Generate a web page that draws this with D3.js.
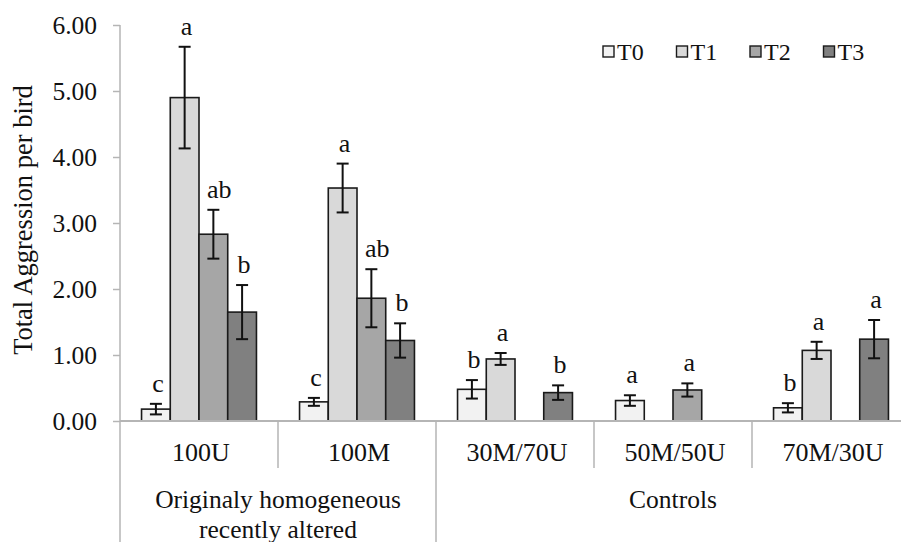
<!DOCTYPE html>
<html>
<head>
<meta charset="utf-8">
<script src="https://cdn.jsdelivr.net/npm/d3@7"></script>
<style>
  body { margin: 0; background: #fff; }
</style>
</head>
<body>
<div id="chart"></div>
<script>
// values
const categories = ["100U", "100M", "30M/70U", "50M/50U", "70M/30U"];
const series = ["T0", "T1", "T2", "T3"];
const groups = [
    { name: ["Originaly homogeneous", "recently altered"], span: 2 },
    { name: ["Controls"], span: 3 }
];
const yTicks = [0, 1, 2, 3, 4, 5, 6];

// per series, one value per category (null = no bar)
const meanT0 = [0.18, 0.29, 0.48, 0.31, 0.20];
const meanT1 = [4.90, 3.53, 0.94, null, 1.07];
const meanT2 = [2.83, 1.86, null, 0.47, null];
const meanT3 = [1.65, 1.22, 0.43, null, 1.24];

const errT0 = [0.08, 0.06, 0.14, 0.08, 0.07];
const errT1 = [0.77, 0.37, 0.09, null, 0.13];
const errT2 = [0.37, 0.44, null, 0.10, null];
const errT3 = [0.41, 0.26, 0.11, null, 0.29];

const letT0 = ["c", "c", "b", "a", "b"];
const letT1 = ["a", "a", "a", "", "a"];
const letT2 = ["ab", "ab", "", "a", ""];
const letT3 = ["b", "b", "b", "", "a"];

const means = [meanT0, meanT1, meanT2, meanT3];
const errs = [errT0, errT1, errT2, errT3];
const lets = [letT0, letT1, letT2, letT3];
const fills = ["#f2f2f2", "#d9d9d9", "#a6a6a6", "#808080"];

const serif = '"Liberation Serif"';

const svg = d3.select("#chart").append("svg")
    .attr("width", 901)
    .attr("height", 542);

const margin = { top: 25, left: 120 },
    width = 790,
    height = 396;

const g = svg.append("g").attr("transform", `translate(${margin.left},${margin.top})`);

const x0 = d3.scaleBand().domain(categories).range([0, width]).padding(0);
const x1 = d3.scaleBand().domain(series).range([0, x0.bandwidth()])
    .paddingInner(0).paddingOuter(0.75);
const y = d3.scaleLinear().domain([0, 6]).range([height, 0]);

const axisColor = "#b5b5b5";

function label(sel, size) {
    return sel.style("font-family", serif).style("font-size", size + "px").attr("fill", "#111");
}

// y axis
const yAxis = g.append("g")
    .call(d3.axisLeft(y).tickValues(yTicks).tickFormat(d3.format(".2f")).tickSize(7).tickPadding(16));
yAxis.select(".domain").remove();
yAxis.selectAll("line").attr("stroke", axisColor).attr("stroke-width", 1.5);
label(yAxis.selectAll("text"), 25.5);

g.append("line")
    .attr("x1", 0).attr("x2", 0)
    .attr("y1", 0).attr("y2", 542 - margin.top)
    .attr("stroke", axisColor).attr("stroke-width", 1.5);

// bars
const rows = [];
categories.forEach((c, ci) => {
    series.forEach((s, si) => {
        if (means[si][ci] != null) {
            rows.push({ cat: c, ser: s, si: si, v: means[si][ci], e: errs[si][ci], lab: lets[si][ci] });
        }
    });
});

g.selectAll("rect.bar")
    .data(rows)
    .enter().append("rect")
    .attr("class", "bar")
    .attr("x", d => x0(d.cat) + x1(d.ser))
    .attr("y", d => y(d.v))
    .attr("width", x1.bandwidth())
    .attr("height", d => y(0) - y(d.v))
    .attr("fill", d => fills[d.si])
    .attr("stroke", "#1a1a1a")
    .attr("stroke-width", 1.6);

// x axis line
g.append("line")
    .attr("x1", 0).attr("x2", width)
    .attr("y1", y(0)).attr("y2", y(0))
    .attr("stroke", axisColor).attr("stroke-width", 2);

// error bars
const cap = 6;
const eb = g.selectAll("g.err")
    .data(rows)
    .enter().append("g")
    .attr("class", "err")
    .attr("transform", d => `translate(${x0(d.cat) + x1(d.ser) + x1.bandwidth() / 2},0)`)
    .attr("stroke", "#111")
    .attr("stroke-width", 2);
eb.append("line").attr("x1", 0).attr("x2", 0)
    .attr("y1", d => y(d.v + d.e)).attr("y2", d => y(d.v - d.e));
eb.append("line").attr("x1", -cap).attr("x2", cap)
    .attr("y1", d => y(d.v + d.e)).attr("y2", d => y(d.v + d.e));
eb.append("line").attr("x1", -cap).attr("x2", cap)
    .attr("y1", d => y(d.v - d.e)).attr("y2", d => y(d.v - d.e));

// significance letters
label(g.selectAll("text.sig")
    .data(rows.filter(d => d.lab))
    .enter().append("text")
    .attr("class", "sig")
    .attr("x", d => x0(d.cat) + x1(d.ser) + x1.bandwidth() / 2 + (d.lab.length > 1 ? 6 : 2))
    .attr("y", d => y(d.v + d.e) - 12)
    .attr("text-anchor", "middle"), 26)
    .text(d => d.lab);

// category labels and separators
label(g.selectAll("text.cat")
    .data(categories)
    .enter().append("text")
    .attr("class", "cat")
    .attr("x", d => x0(d) + x0.bandwidth() / 2 + 2)
    .attr("y", y(0) + 40)
    .attr("text-anchor", "middle"), 26)
    .text(d => d);

let start = 0;
groups.forEach(grp => {
    const left = x0(categories[start]);
    const right = x0(categories[start + grp.span - 1]) + x0.bandwidth();
    for (let i = 1; i < grp.span; i++) {
        const xs = x0(categories[start + i]);
        g.append("line")
            .attr("x1", xs).attr("x2", xs)
            .attr("y1", y(0)).attr("y2", y(0) + 47)
            .attr("stroke", axisColor).attr("stroke-width", 1.5);
    }
    g.append("line")
        .attr("x1", right).attr("x2", right)
        .attr("y1", y(0)).attr("y2", 542 - margin.top)
        .attr("stroke", axisColor).attr("stroke-width", 1.5);
    const t = label(g.append("text")
        .attr("x", (left + right) / 2)
        .attr("y", y(0) + 87)
        .attr("text-anchor", "middle"), 25.5);
    grp.name.forEach((line, li) => {
        t.append("tspan")
            .attr("x", (left + right) / 2)
            .attr("dy", li === 0 ? 0 : 30)
            .text(line);
    });
    start += grp.span;
});

// y axis title
label(svg.append("text")
    .attr("transform", `translate(32,${margin.top + height / 2 - 3}) rotate(-90)`)
    .attr("text-anchor", "middle"), 26.5)
    .text("Total Aggression per bird");

// legend
const legend = svg.append("g").attr("transform", "translate(603,46)");
series.forEach((s, i) => {
    const item = legend.append("g").attr("transform", `translate(${i * 73.5},0)`);
    item.append("rect")
        .attr("width", 11).attr("height", 11)
        .attr("fill", fills[i])
        .attr("stroke", "#1a1a1a").attr("stroke-width", 1.4);
    label(item.append("text")
        .attr("x", 14).attr("y", 14), 24)
        .text(s);
});
</script>
</body>
</html>
